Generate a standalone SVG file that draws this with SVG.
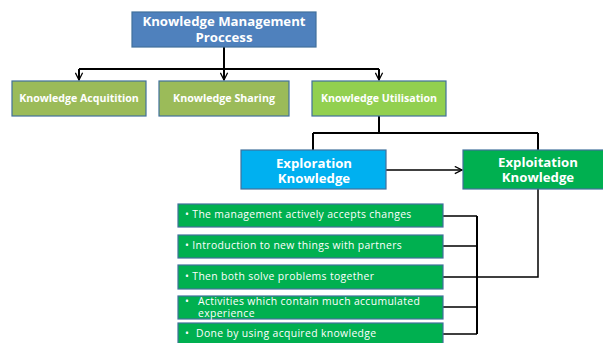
<svg xmlns="http://www.w3.org/2000/svg" width="603" height="343" viewBox="0 0 603 343">
<defs>
<style>
.box{stroke:#41719C;stroke-width:1.2}
.t{fill:#fff;font-family:"Open Sans","Liberation Sans",sans-serif;font-weight:bold;text-anchor:middle}
.b{fill:#fff;font-family:"Open Sans","Liberation Sans",sans-serif;font-size:10.4px;letter-spacing:0.35px}
.c{fill:none;stroke:#000;stroke-width:2}
.c1{fill:none;stroke:#000;stroke-width:1.5}
</style>
<marker id="ah2" viewBox="0 0 10 10" refX="9" refY="5" markerWidth="9" markerHeight="9" orient="auto" markerUnits="userSpaceOnUse">
<path d="M1,1 L9,5 L1,9" fill="none" stroke="#000" stroke-width="1.4"/>
</marker>
</defs>
<rect width="603" height="343" fill="#fff"/>
<g id="connectors">
<path class="c" d="M224,47 V69 M79,69 H379"/>
<path class="c" d="M79,69 V80" marker-end="url(#ah2)"/>
<path class="c" d="M224,69 V80" marker-end="url(#ah2)"/>
<path class="c" d="M379,69 V80" marker-end="url(#ah2)"/>
<path class="c" d="M379,116 V133 M313,133 H538 M313,133 V150 M538,133 V150"/>
<path class="c1" d="M386,170 H462" marker-end="url(#ah2)"/>
<path class="c1" d="M538,189 V277 H443"/>
<path class="c" d="M477,216 V334"/>
<path class="c1" d="M443,216 H477 M443,246 H477 M443,307 H477 M443,334 H477"/>
</g>
<g id="n-kmp">
<rect class="box" x="132" y="12" width="184" height="35" fill="#4F81BD"/>
<text class="t" x="224" y="26" font-size="13.2">Knowledge Management<tspan x="224" y="42">Proccess</tspan></text>
</g>
<g id="n-acq">
<rect class="box" x="12" y="81" width="134" height="35" fill="#9BBB59"/>
<text class="t" x="79" y="102" font-size="10.6">Knowledge Acquitition</text>
</g>
<g id="n-share">
<rect class="box" x="159" y="81" width="130" height="35" fill="#9BBB59"/>
<text class="t" x="224" y="102" font-size="10.7">Knowledge Sharing</text>
</g>
<g id="n-util">
<rect class="box" x="312" y="81" width="134" height="35" fill="#92D050"/>
<text class="t" x="379" y="102" font-size="10.6">Knowledge Utilisation</text>
</g>
<g id="n-explor">
<rect class="box" x="241" y="150" width="145" height="39" fill="#00B0F0"/>
<text class="t" x="314" y="168" font-size="13.2">Exploration<tspan x="314" y="183">Knowledge</tspan></text>
</g>
<g id="n-exploit">
<rect class="box" x="463" y="150" width="145" height="39" fill="#00B050"/>
<text class="t" x="538" y="167" font-size="13.2">Exploitation<tspan x="538" y="182">Knowledge</tspan></text>
</g>
<g id="n-b1">
<rect class="box" x="178" y="204" width="265" height="23" fill="#00B050"/>
<text class="b" x="185" y="218">• The management actively accepts changes</text>
</g>
<g id="n-b2">
<rect class="box" x="178" y="235" width="265" height="23" fill="#00B050"/>
<text class="b" x="185" y="249">• Introduction to new things with partners</text>
</g>
<g id="n-b3">
<rect class="box" x="178" y="265" width="265" height="24" fill="#00B050"/>
<text class="b" x="185" y="280">• Then both solve problems together</text>
</g>
<g id="n-b4">
<rect class="box" x="178" y="296" width="265" height="23" fill="#00B050"/>
<text class="b" x="185" y="305">•<tspan x="198">Activities which contain much accumulated</tspan><tspan x="198" y="317">experience</tspan></text>
</g>
<g id="n-b5">
<rect class="box" x="178" y="323" width="265" height="24" fill="#00B050"/>
<text class="b" x="185" y="337">•<tspan x="196">Done by using acquired knowledge</tspan></text>
</g>
</svg>
